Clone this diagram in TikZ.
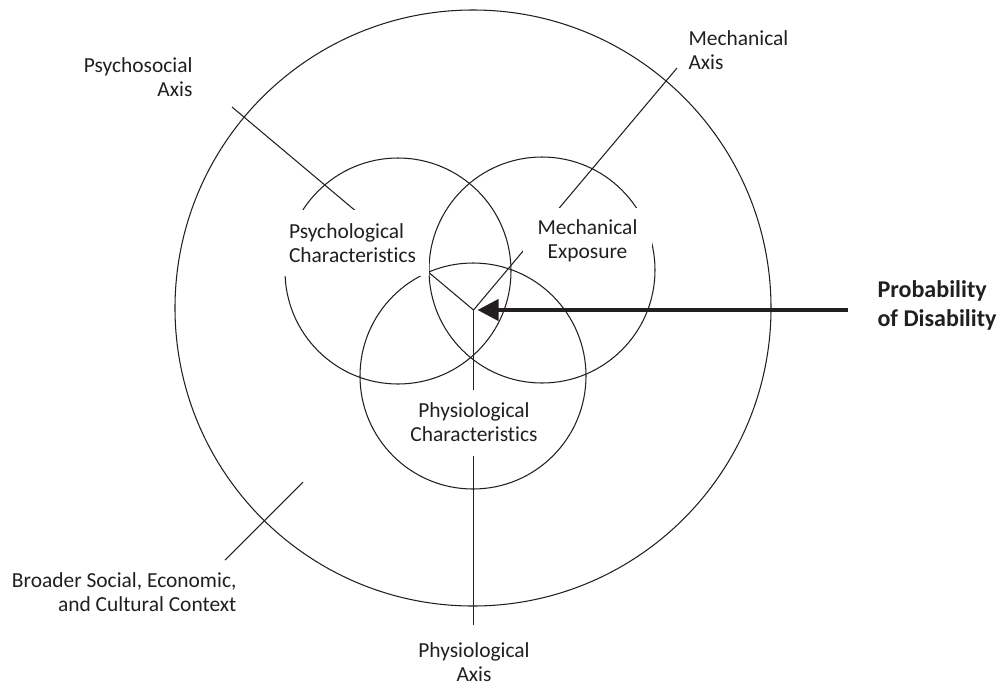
\documentclass[tikz,border=0pt]{standalone}
\usepackage{fontspec}
\setmainfont{Carlito}[Ligatures=NoCommon]
\definecolor{inkgray}{RGB}{35,31,32}
\usetikzlibrary{
  arrows.meta,
  positioning,
}
\newdimen\pxu \pxu=0.02cm
\tikzset{
  >={Triangle[length=0.42cm, width=0.42cm]},
}

\begin{document}
\begin{tikzpicture}[x=0.02cm, y=-0.02cm, line width=0.6pt, color=inkgray,
                    every node/.style={font=\fontsize{12.2}{13.7}\selectfont, inner sep=0pt},
                    area/.style={fill=white, inner xsep=8\pxu, minimum height=66\pxu}]
      \useasboundingbox (0,0) rectangle (1000,687);
      % context circle and the three domains
      \draw (473,308) circle [radius=298\pxu];
      \draw (398,271) circle [radius=113\pxu];
      \draw (542,270) circle [radius=113\pxu];
      \draw (473,376) circle [radius=113\pxu];
      % axes
      \coordinate (hub) at (473.5,310);
      \coordinate (psyend) at (232,107);
      \coordinate (mechend) at (677,68);
      \coordinate (physend) at (473.5,625);
      \coordinate (ctxend) at (225,560);
      \coordinate (ctxtip) at (303,482);
      \coordinate (probstart) at (848,310);
      \draw (psyend) -- (hub) -- (mechend);
      \draw (hub) -- (physend);
      \draw (ctxend) -- (ctxtip);
      % domain labels
      \node [area, text width=132\pxu, align=left] (psych) at (355,243)
            {Psychological\\Characteristics};
      \node [area, text width=113\pxu, align=center] (mech) at (587.5,241)
            {Mechanical\\Exposure};
      \node [area, text width=130\pxu, align=center] (phys) at (474,422.5)
            {Physiological\\Characteristics};
      % axis labels
      \node [anchor=north east, align=right] (psylabel) at (193,57) {Psychosocial\\Axis};
      \node [anchor=north west, align=left] (mechlabel) at (688,30) {Mechanical\\Axis};
      \node [anchor=north, align=center] (physlabel) at (474,642) {Physiological\\Axis};
      \node [anchor=north east, align=right] (ctxlabel) at (237,572)
            {Broader Social, Economic,\\and Cultural Context};
      \node [anchor=north west, align=left, font=\bfseries\fontsize{13.7}{16.5}\selectfont]
            (prob) at (877,280) {Probability\\of Disability};
      \draw [->, line width=4\pxu, shorten >=4\pxu] (probstart) -- (hub);
\end{tikzpicture}
\end{document}
